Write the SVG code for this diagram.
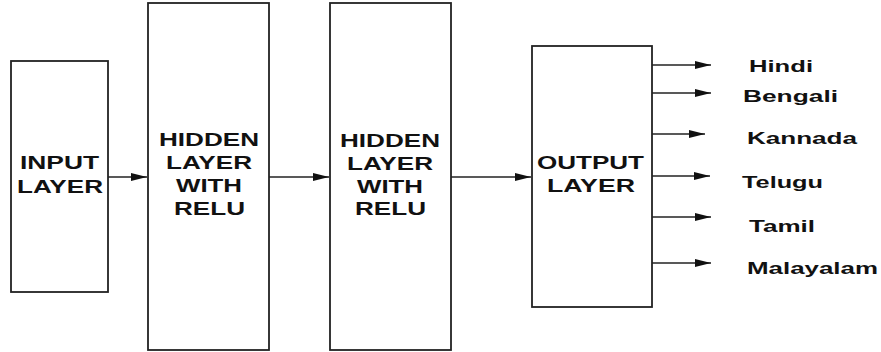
<svg xmlns="http://www.w3.org/2000/svg" width="881" height="352" viewBox="0 0 881 352">
<defs>
<style>
rect.box{fill:#fff;stroke:#222;stroke-width:1.8}
line.c{stroke:#222;stroke-width:1.5;marker-end:url(#ah)}
text{font-family:"Liberation Sans",Arial,sans-serif;font-weight:bold;fill:#111;lengthAdjust:spacingAndGlyphs}
text.n{font-size:18px}
text.l{font-size:17px}
</style>
<marker id="ah" markerUnits="userSpaceOnUse" markerWidth="17" markerHeight="9" refX="16" refY="4" orient="auto">
<path d="M0,0 L16,4 L0,8 z" fill="#111"/>
</marker>
</defs>
<rect width="881" height="352" fill="#fff"/>
<g id="input">
<rect class="box" x="11" y="61" width="97" height="231"/>
<text class="n" x="20" y="169" textLength="79" lengthAdjust="spacingAndGlyphs">INPUT</text>
<text class="n" x="17" y="193" textLength="86" lengthAdjust="spacingAndGlyphs">LAYER</text>
</g>
<g id="hidden1">
<rect class="box" x="148" y="3" width="121" height="347"/>
<text class="n" x="159" y="146" textLength="100" lengthAdjust="spacingAndGlyphs">HIDDEN</text>
<text class="n" x="166" y="169" textLength="86" lengthAdjust="spacingAndGlyphs">LAYER</text>
<text class="n" x="176" y="192" textLength="66" lengthAdjust="spacingAndGlyphs">WITH</text>
<text class="n" x="174" y="215" textLength="71" lengthAdjust="spacingAndGlyphs">RELU</text>
</g>
<g id="hidden2">
<rect class="box" x="330" y="3" width="121" height="347"/>
<text class="n" x="340" y="147" textLength="100" lengthAdjust="spacingAndGlyphs">HIDDEN</text>
<text class="n" x="347" y="170" textLength="86" lengthAdjust="spacingAndGlyphs">LAYER</text>
<text class="n" x="357" y="193" textLength="66" lengthAdjust="spacingAndGlyphs">WITH</text>
<text class="n" x="355" y="215" textLength="71" lengthAdjust="spacingAndGlyphs">RELU</text>
</g>
<g id="output">
<rect class="box" x="532" y="46" width="120" height="261"/>
<text class="n" x="537" y="169" textLength="107" lengthAdjust="spacingAndGlyphs">OUTPUT</text>
<text class="n" x="547" y="192" textLength="88" lengthAdjust="spacingAndGlyphs">LAYER</text>
</g>
<g id="labels">
<text class="l" x="749" y="72" textLength="64" lengthAdjust="spacingAndGlyphs">Hindi</text>
<text class="l" x="743" y="102" textLength="95" lengthAdjust="spacingAndGlyphs">Bengali</text>
<text class="l" x="747" y="144" textLength="110" lengthAdjust="spacingAndGlyphs">Kannada</text>
<text class="l" x="742" y="188" textLength="81" lengthAdjust="spacingAndGlyphs">Telugu</text>
<text class="l" x="749" y="232" textLength="66" lengthAdjust="spacingAndGlyphs">Tamil</text>
<text class="l" x="747" y="274" textLength="131" lengthAdjust="spacingAndGlyphs">Malayalam</text>
</g>
<g id="connectors">
<line class="c" x1="108" y1="177" x2="147" y2="177"/>
<line class="c" x1="269" y1="177" x2="329" y2="177"/>
<line class="c" x1="451" y1="177" x2="531" y2="177"/>
<line class="c" x1="652" y1="65" x2="711" y2="65"/>
<line class="c" x1="652" y1="93" x2="711" y2="93"/>
<line class="c" x1="652" y1="134" x2="705" y2="134"/>
<line class="c" x1="652" y1="176" x2="710" y2="176"/>
<line class="c" x1="652" y1="217" x2="711" y2="217"/>
<line class="c" x1="652" y1="263" x2="711" y2="263"/>
</g>
</svg>
